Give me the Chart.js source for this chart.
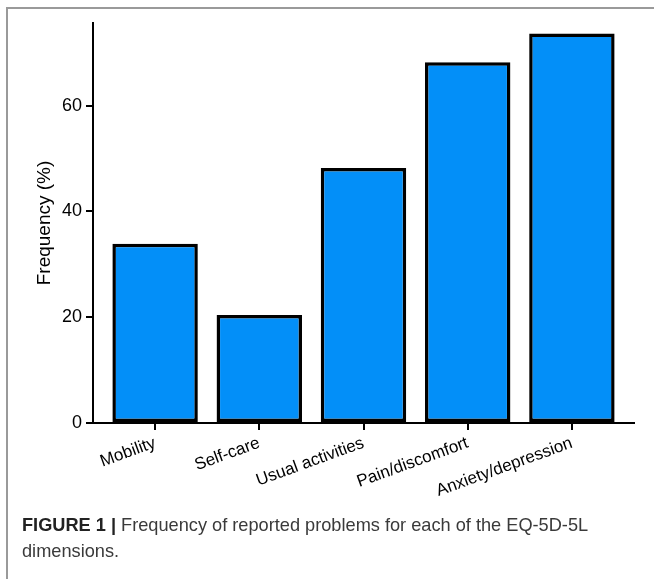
<!DOCTYPE html>
<html>
<head>
<meta charset="utf-8">
<script src="https://cdn.jsdelivr.net/npm/chart.js@4/dist/chart.umd.min.js"></script>
<style>
  html, body { margin: 0; padding: 0; background: #fff; }
  body { width: 654px; height: 579px; position: relative; overflow: hidden; font-family: "Liberation Sans", Arial, sans-serif; }
  #frame { position: absolute; left: 6px; top: 7px; width: 700px; height: 700px; border-top: 2px solid #9a9a9a; border-left: 2px solid #9a9a9a; box-sizing: border-box; }
  #wrap { position: absolute; left: 0; top: 0; width: 654px; height: 579px; }
  #caption { position: absolute; left: 22px; top: 512px; width: 630px; font-size: 18.2px; line-height: 26px; color: #3a3a3a; }
  #caption b { color: #222; }
</style>
</head>
<body>
<div id="frame"></div>
<div id="wrap"><canvas id="c" width="654" height="579"></canvas></div>
<div id="caption"><b>FIGURE 1 |</b> Frequency of reported problems for each of the EQ-5D-5L<br>dimensions.</div>
<script>
const categories = ["Mobility", "Self-care", "Usual activities", "Pain/discomfort", "Anxiety/depression"];
const frequency = [33.9, 20.4, 48.2, 68.2, 73.6];
const yTicks = [0, 20, 40, 60];

const data = categories.map((c, i) => ({ x: i, y: frequency[i] }));

new Chart(document.getElementById('c'), {
  type: 'bar',
  data: {
    datasets: [{
      data: data,
      backgroundColor: '#038ff8',
      borderColor: '#000',
      borderWidth: 3.5,
      borderSkipped: false,
      barPercentage: 0.82,
      categoryPercentage: 1
    }]
  },
  options: {
    responsive: false,
    maintainAspectRatio: false,
    animation: false,
    devicePixelRatio: 1,
    layout: { padding: { left: 0, right: 20, top: 23, bottom: 0 } },
    plugins: { legend: { display: false }, tooltip: { enabled: false } },
    scales: {
      x: {
        type: 'linear',
        offset: false,
        min: -0.596,
        max: 4.596,
        afterBuildTicks: (axis) => { axis.ticks = categories.map((c, i) => ({ value: i })); },
        afterFit: (scale) => { scale.height = 579 - 423; },
        ticks: {
          callback: (v) => categories[v],
          minRotation: 20,
          maxRotation: 20,
          color: '#000',
          padding: 3,
          font: { family: '"Liberation Sans", Arial, sans-serif', size: 17 }
        },
        grid: { offset: false, drawOnChartArea: false, drawTicks: true, tickLength: 7, color: '#000', lineWidth: 2 },
        border: { display: true, color: '#000', width: 2 }
      },
      y: {
        min: 0,
        max: 75.6,
        afterBuildTicks: (axis) => { axis.ticks = yTicks.map(v => ({ value: v })); },
        afterFit: (scale) => { scale.width = 93; },
        ticks: {
          color: '#000',
          padding: 4,
          font: { family: '"Liberation Sans", Arial, sans-serif', size: 18 }
        },
        title: {
          display: true,
          text: 'Frequency (%)',
          color: '#000',
          padding: { top: 33, bottom: 0 },
          font: { family: '"Liberation Sans", Arial, sans-serif', size: 19 }
        },
        grid: { drawOnChartArea: false, drawTicks: true, tickLength: 7, color: '#000', lineWidth: 2 },
        border: { display: true, color: '#000', width: 2 }
      }
    }
  }
});
</script>
</body>
</html>
